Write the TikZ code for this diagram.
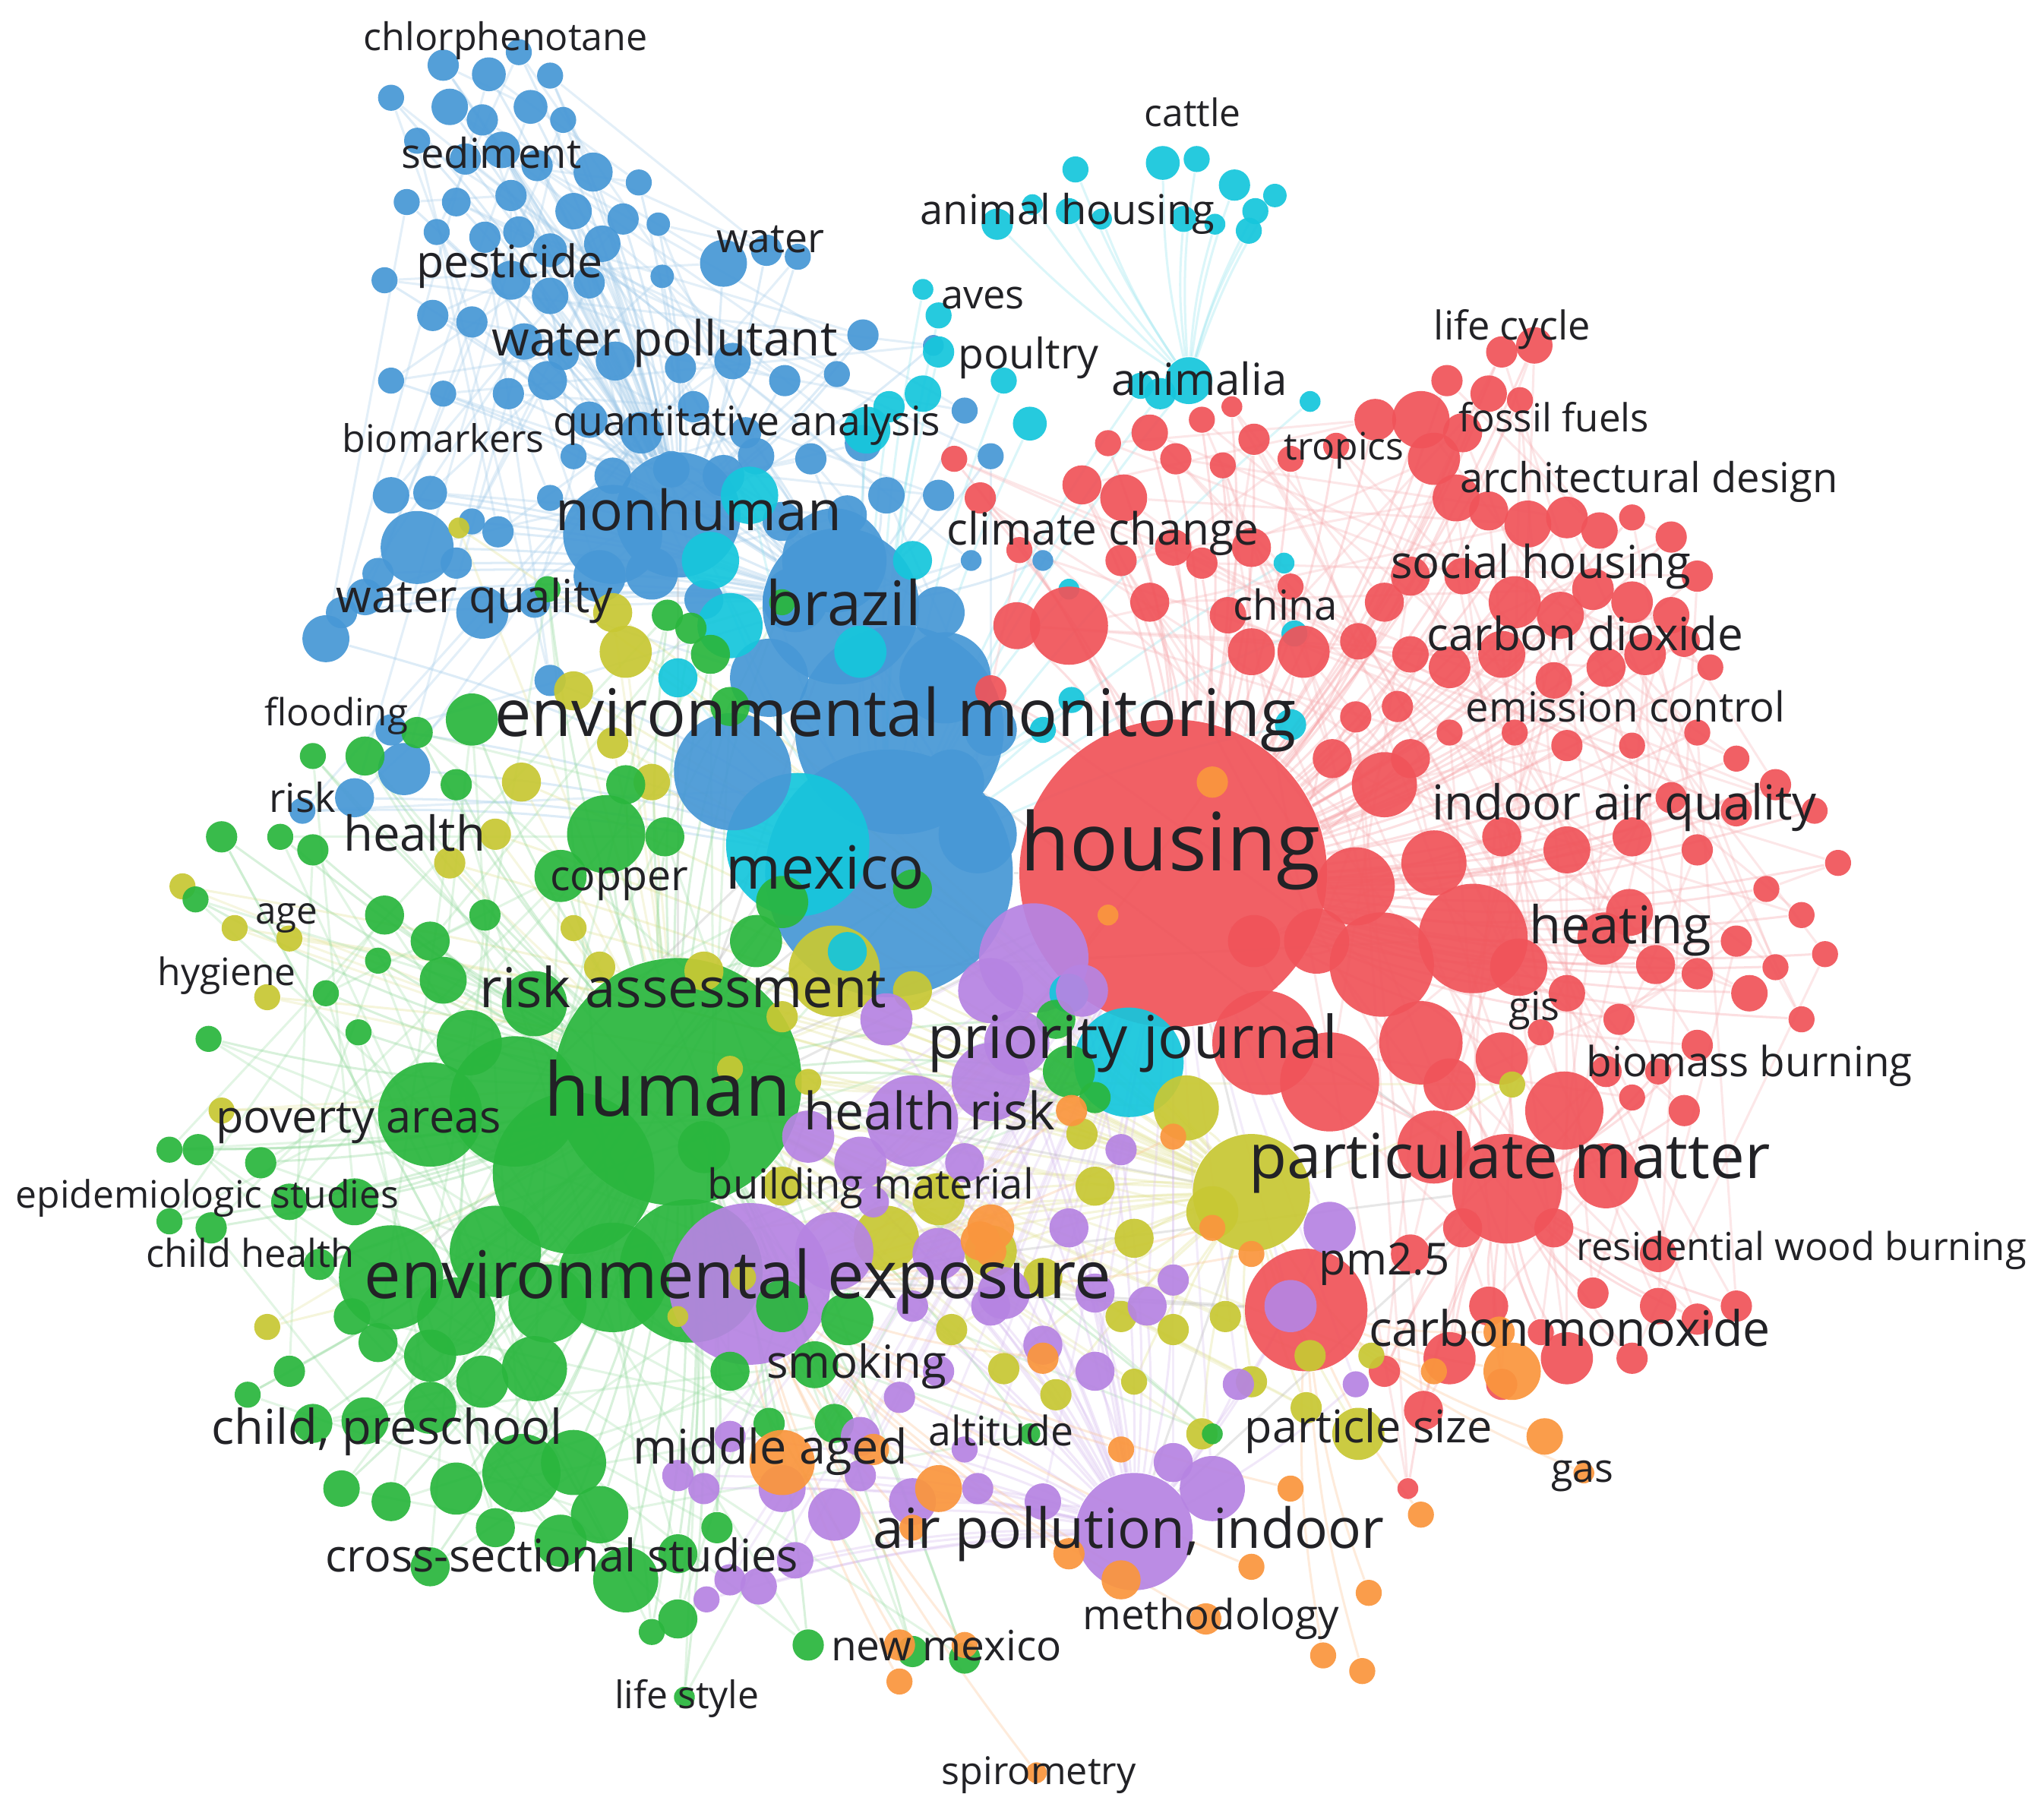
\documentclass[tikz,border=0pt]{standalone}
\usepackage{fontspec}
\usepackage{graphicx}
\setmainfont{Open Sans}
\usetikzlibrary{backgrounds}
\definecolor{cR}{RGB}{240,84,90}
\definecolor{cB}{RGB}{72,152,214}
\definecolor{cC}{RGB}{22,198,220}
\definecolor{cG}{RGB}{42,182,62}
\definecolor{cY}{RGB}{200,200,52}
\definecolor{cP}{RGB}{182,132,226}
\definecolor{cO}{RGB}{250,150,62}
\definecolor{txt}{RGB}{34,34,38}
\pgfdeclarelayer{bgzero}
\pgfsetlayers{bgzero,background,main}
\tikzset{
  bub/.style={circle, inner sep=0pt, draw=none, fill opacity=0.93},
  kw/.style={inner sep=0pt, anchor=base, text=txt},
  web/.style={line width=0.5pt, draw opacity=0.3},
}
\newcommand\kwlabel[5]{\node[kw] (#1) at (#2,#3) {\resizebox{#4mm}{!}{#5}};}
\def\blueS{340/50/12, 375/57/13, 398/40/10, 422/58/10, 300/75/10, 345/82/14, 370/92/12, 407/82/13, 432/92/10, 320/108/10, 357/122/12, 385/115/14, 412/127/12, 455/132/15, 490/140/10, 312/155/10, 350/155/11, 392/150/12, 440/162/14, 478/168/12, 505/172/9, 335/178/10, 372/182/12, 398/178/12, 422/192/13, 462/187/14, 508/212/9, 555/202/18, 588/192/12, 612/197/10, 295/215/10, 392/215/15, 422/227/14, 452/217/12, 332/242/12, 362/247/12, 402/262/14, 432/272/12, 472/277/15, 522/282/12, 562/277/14, 602/292/12, 642/287/10, 662/257/12, 716/265/8, 300/292/10, 340/302/10, 390/302/12, 420/292/15, 452/322/14, 492/332/16, 532/312/12, 572/332/12, 622/352/12, 662/340/14, 740/315/10, 300/380/14, 330/378/13, 362/400/10, 382/408/12, 422/382/10, 320/420/28, 290/440/12, 350/432/12, 370/470/20, 410/462/12, 460/442/20, 262/470/12, 280/458/14, 250/490/18, 422/522/12, 300/560/12, 310/590/20, 272/612/15, 232/622/10, 600/400/15, 580/350/14, 745/430/8, 800/430/8, 720/380/12, 760/350/10, 680/380/14, 590/520/30, 500/440/20, 540/460/15, 440/350/10, 470/365/14, 515/360/14, 555/365/16, 650/395/15, 610/460/25, 730/600/25, 760/560/20, 720/470/20, 750/640/30}
\def\cyanS{825/130/10, 892/125/13, 918/122/10, 947/142/12, 963/162/10, 978/150/9, 958/177/10, 765/172/12, 792/157/8, 820/162/10, 845/168/8, 908/168/10, 932/172/8, 708/222/8, 720/242/10, 720/270/12, 790/325/13, 770/292/10, 682/312/12, 708/302/14, 665/330/18, 912/292/18, 890/302/12, 875/296/10, 1005/308/8, 985/432/8, 993/486/10, 990/556/12, 520/520/15, 820/762/15, 800/560/10, 822/537/10, 650/730/15, 820/452/8, 700/430/15, 660/500/20, 560/480/25, 545/430/22, 575/380/22}
\def\redS{830/372/15, 862/382/18, 850/340/10, 882/332/14, 902/352/12, 922/322/10, 945/312/8, 938/357/10, 962/337/12, 990/352/10, 1025/342/10, 1055/322/16, 1090/322/22, 1110/292/12, 1122/332/15, 1142/302/14, 1166/307/10, 1152/270/12, 1177/265/14, 1100/352/20, 1117/382/18, 1142/392/15, 1172/402/18, 1202/397/16, 1227/407/14, 1252/397/10, 1282/412/12, 1302/442/12, 1282/472/14, 1252/462/16, 1222/452/16, 1197/472/18, 1162/462/20, 1122/442/14, 1082/442/15, 1062/462/15, 1042/492/14, 1082/502/14, 1112/512/16, 1152/502/18, 1192/522/14, 1232/512/15, 1262/502/16, 1292/492/12, 1312/512/10, 1000/500/20, 960/500/18, 942/472/14, 922/432/12, 882/462/15, 780/480/18, 760/530/12, 782/422/10, 752/382/12, 732/352/10, 1072/542/12, 1112/562/10, 1162/562/10, 1202/572/12, 1252/572/10, 1302/562/10, 1332/582/10, 1362/602/12, 1392/622/10, 1410/662/10, 1355/682/10, 1382/702/10, 1332/722/12, 1302/747/12, 1342/762/14, 1362/742/10, 1400/732/10, 1382/782/10, 1302/802/12, 1292/852/12, 1252/842/10, 1242/782/12, 1202/762/14, 1165/742/22, 1010/722/25, 1100/662/25, 1152/642/15, 1202/652/18, 1252/642/15, 1302/652/12, 1332/622/12, 1282/612/12, 1062/602/25, 1022/582/15, 1082/582/15, 1200/852/30, 1232/902/25, 1082/962/15, 1122/942/15, 1192/942/15, 1222/992/12, 1272/1002/14, 1302/1012/12, 1272/962/14, 1332/1002/12, 1252/1042/12, 1202/1042/20, 1142/1002/15, 1112/1042/20, 1092/1082/15, 1062/1052/12, 1080/1142/8, 1152/1062/12, 1182/1022/10, 1112/832/20, 1152/812/20, 962/722/20, 1182/792/10, 1232/822/12, 1272/822/10, 1040/550/12, 960/420/15, 990/450/10, 900/420/14, 860/430/12, 1230/720/20, 1270/740/15, 1250/700/18, 820/480/30, 970/800/40, 1020/830/38, 1090/800/32, 1040/680/30, 1060/740/40, 1100/880/28}
\def\yelS{930/930/20, 870/950/15, 840/910/15, 830/870/12, 720/920/20, 760/960/20, 800/980/15, 700/760/15, 600/780/12, 620/830/10, 560/820/10, 480/500/20, 440/530/15, 470/570/12, 500/600/14, 400/600/15, 380/640/12, 345/662/12, 180/712/10, 222/720/10, 205/765/10, 170/852/10, 205/1018/10, 140/680/10, 352/405/8, 470/470/15, 440/712/10, 460/742/12, 540/745/15, 730/1020/12, 770/1050/12, 810/1070/12, 870/1060/10, 900/1020/12, 940/1010/12, 960/1060/12, 1042/1100/20, 1002/1080/12, 1005/1040/12, 922/1100/12, 1052/1040/10, 1160/832/10, 570/980/10, 520/1010/8, 600/910/15, 860/1010/12, 910/850/25, 680/950/25}
\def\greenS{360/800/25, 410/770/25, 340/752/18, 330/722/15, 372/702/12, 295/702/15, 290/737/10, 240/652/12, 215/642/10, 170/642/12, 150/690/10, 240/580/10, 280/580/15, 320/562/12, 350/602/12, 362/552/20, 430/672/20, 510/642/15, 480/602/15, 545/502/15, 530/482/12, 512/472/12, 560/542/15, 600/462/10, 420/452/10, 250/762/10, 275/792/10, 160/797/10, 130/882/10, 152/882/12, 130/937/10, 162/942/12, 200/892/12, 222/922/14, 272/922/18, 410/1050/25, 370/1060/20, 330/1080/20, 280/1090/18, 240/1092/15, 222/1052/12, 190/1070/10, 262/1142/14, 300/1152/15, 350/1142/20, 440/1122/25, 460/1162/22, 430/1182/20, 380/1172/15, 330/1202/15, 480/1212/25, 520/1192/15, 550/1172/12, 500/1252/10, 520/1242/15, 590/1092/12, 625/1047/18, 640/1092/15, 560/1052/15, 600/1002/20, 650/1012/20, 820/822/20, 810/782/15, 840/842/12, 700/682/15, 540/880/20, 620/1262/12, 700/1267/12, 740/1272/12, 525/1302/8, 930/1100/8, 790/1100/8, 580/722/20, 600/692/20, 330/1040/20, 290/1030/15, 270/1010/14, 245/970/12, 465/640/30, 420/1000/30, 400/1130/30, 350/1010/30}
\def\purS{780/800/25, 620/872/20, 660/892/20, 720/962/20, 770/992/20, 840/992/15, 880/1002/15, 800/1032/15, 840/1052/15, 720/1052/12, 690/1072/12, 660/1102/15, 560/1102/12, 520/1132/12, 600/1142/18, 640/1162/20, 610/1197/14, 582/1217/14, 560/1212/12, 542/1227/10, 660/1132/12, 700/1152/18, 750/1142/12, 800/1152/14, 930/1142/25, 900/1122/15, 990/1002/20, 1020/942/20, 950/1062/12, 1040/1062/10, 700/1002/12, 740/1112/10, 540/1142/12, 760/1002/15, 740/892/15, 820/942/15, 860/882/12, 900/982/12, 680/782/20, 670/922/12, 830/760/20, 760/760/25, 700/860/35, 760/830/30, 640/960/30}
\def\orS{900/872/10, 822/852/12, 760/942/18, 752/952/15, 800/1042/12, 600/1122/25, 670/1112/12, 720/1142/18, 860/1212/15, 925/1242/12, 960/1202/10, 990/1142/10, 1015/1270/10, 1045/1282/10, 1050/1222/10, 1090/1162/10, 1160/1052/22, 1185/1102/14, 1215/1130/8, 1150/1022/12, 740/1262/10, 690/1262/12, 690/1290/10, 795/1360/8, 820/1192/12, 860/1112/10, 1100/1052/10, 930/942/10, 960/962/10, 850/702/8, 930/600/12, 700/1172/10, 760/960/12}
\begin{document}
\begin{tikzpicture}[x=0.1mm,y=-0.1mm]
\useasboundingbox (0,0) rectangle (1568,1393);
\begin{pgfonlayer}{bgzero}
\fill[white] (0,0) rectangle (1568,1393);
\end{pgfonlayer}
% ---- big hubs
\node[bub,fill=cR,minimum size=23.6mm] (R1) at (900,670) {};
\node[bub,fill=cB,minimum size=16mm] (B2) at (690,560) {};
\node[bub,fill=cB,minimum size=19mm] (B1) at (682,670) {};
\node[bub,fill=cC,minimum size=11mm] (C2) at (612,648) {};
\node[bub,fill=cB,minimum size=12mm] (B3) at (645,465) {};
\node[bub,fill=cB,minimum size=9mm] (B5) at (562,592) {};
\node[bub,fill=cB,minimum size=9.6mm] (B4) at (520,395) {};
\node[bub,fill=cB,minimum size=7.6mm] (B6) at (470,410) {};
\node[bub,fill=cB,minimum size=8mm] (B7) at (640,430) {};
\node[bub,fill=cB,minimum size=7mm] (B8) at (725,520) {};
\node[bub,fill=cG,minimum size=19mm] (G1) at (520,830) {};
\node[bub,fill=cG,minimum size=12.4mm] (G2) at (440,900) {};
\node[bub,fill=cG,minimum size=10mm] (G3) at (395,845) {};
\node[bub,fill=cG,minimum size=11mm] (G4) at (530,975) {};
\node[bub,fill=cG,minimum size=8.4mm] (G5) at (470,980) {};
\node[bub,fill=cG,minimum size=8mm] (G6) at (300,980) {};
\node[bub,fill=cG,minimum size=7mm] (G7) at (380,960) {};
\node[bub,fill=cG,minimum size=8mm] (G8) at (330,855) {};
\node[bub,fill=cP,minimum size=12.4mm] (P1) at (575,985) {};
\node[bub,fill=cP,minimum size=8.4mm] (P2) at (793,735) {};
\node[bub,fill=cP,minimum size=9mm] (P3) at (870,1175) {};
\node[bub,fill=cR,minimum size=8.4mm] (R2) at (1156,912) {};
\node[bub,fill=cY,minimum size=9mm] (Y1) at (960,915) {};
\node[bub,fill=cY,minimum size=7mm] (Y2) at (640,745) {};
\node[bub,fill=cR,minimum size=9.4mm] (R3) at (1002,1005) {};
\node[bub,fill=cR,minimum size=8.4mm] (R4) at (1130,720) {};
\node[bub,fill=cC,minimum size=8.4mm] (C1) at (866,815) {};
% ---- small bubbles
\foreach \x/\y/\r [count=\i] in \blueS {\node[bub,fill=cB,minimum size=\r*0.2mm] (bs\i) at (\x,\y) {}; \xdef\nB{\i}}
\foreach \x/\y/\r [count=\i] in \cyanS {\node[bub,fill=cC,minimum size=\r*0.2mm] (cs\i) at (\x,\y) {}; \xdef\nC{\i}}
\foreach \x/\y/\r [count=\i] in \redS {\node[bub,fill=cR,minimum size=\r*0.2mm] (rs\i) at (\x,\y) {}; \xdef\nR{\i}}
\foreach \x/\y/\r [count=\i] in \yelS {\node[bub,fill=cY,minimum size=\r*0.2mm] (ys\i) at (\x,\y) {}; \xdef\nY{\i}}
\foreach \x/\y/\r [count=\i] in \greenS {\node[bub,fill=cG,minimum size=\r*0.2mm] (gs\i) at (\x,\y) {}; \xdef\nG{\i}}
\foreach \x/\y/\r [count=\i] in \purS {\node[bub,fill=cP,minimum size=\r*0.2mm] (ps\i) at (\x,\y) {}; \xdef\nP{\i}}
\foreach \x/\y/\r [count=\i] in \orS {\node[bub,fill=cO,minimum size=\r*0.2mm] (os\i) at (\x,\y) {}; \xdef\nO{\i}}
% ---- connectors
\begin{pgfonlayer}{background}
\foreach \x/\y/\r [count=\i] in \blueS {
  \pgfmathtruncatemacro\j{mod(\i*7,\nB)+1}
  \pgfmathtruncatemacro\h{\y<300?4:(\y<480?3:1)}
  \draw[web,draw=cB!60] (bs\i) to[bend left=6] (B\h);
  \draw[web,draw=cB!50] (bs\i) -- (bs\j);}
\foreach \x/\y/\r [count=\i] in \cyanS {
  \pgfmathtruncatemacro\t{\y<200?1:0}
  \ifnum\t=1 \draw[web,draw=cC!50] (cs\i) to[bend right=6] (cs22);
  \else \draw[web,draw=cC!50] (cs\i) to[bend right=6] (B1); \fi}
\foreach \x/\y/\r [count=\i] in \redS {
  \pgfmathtruncatemacro\j{mod(\i*11,\nR)+1}
  \pgfmathtruncatemacro\h{\y<800?1:2}
  \draw[web,draw=cR!60] (rs\i) to[bend left=8] (R\h);
  \draw[web,draw=cR!45] (rs\i) -- (rs\j);}
\foreach \x/\y/\r [count=\i] in \yelS {
  \draw[web,draw=cY!60] (ys\i) to[bend left=6] (Y1);
  \draw[web,draw=cY!50] (ys\i) -- (G1);}
\foreach \x/\y/\r [count=\i] in \greenS {
  \pgfmathtruncatemacro\j{mod(\i*5,\nG)+1}
  \draw[web,draw=cG!60] (gs\i) to[bend right=6] (G1);
  \draw[web,draw=cG!45] (gs\i) -- (gs\j);}
\foreach \x/\y/\r [count=\i] in \purS {
  \draw[web,draw=cP!60] (ps\i) to[bend left=6] (P3);
  \draw[web,draw=cP!50] (ps\i) -- (R1);}
\foreach \x/\y/\r [count=\i] in \orS {
  \pgfmathtruncatemacro\t{\x>1000?1:0}
  \ifnum\t=1 \draw[web,draw=cO!60] (os\i) to[bend left=6] (R3);
  \else \draw[web,draw=cO!60] (os\i) to[bend left=6] (P1); \fi}
\foreach \a/\b in {R1/B1,R1/G1,R1/P1,R1/Y1,R1/C1,B1/G1,B2/G1,B3/G1,B4/G1,G1/P1,G1/Y1,P1/R2,P1/R3,Y1/P3,B1/P1,B2/R2,C2/G2,G2/R1,G3/B2,R2/P3,R3/G4,C1/G5,Y2/R4,B5/P2,G6/B1}
  \draw[web,draw=gray!60] (\a) -- (\b);
\end{pgfonlayer}
% ---- labels
\kwlabel{l1}{388}{39}{21.8}{chlorphenotane}
\kwlabel{l2}{377}{129}{13.8}{sediment}
\kwlabel{l3}{915}{97}{7.4}{cattle}
\kwlabel{l4}{819}{172}{22.6}{animal housing}
\kwlabel{l5}{391}{213}{14.3}{pesticide}
\kwlabel{l6}{591}{194}{8.3}{water}
\kwlabel{l7}{754}{237}{6.4}{aves}
\kwlabel{l8}{510}{273}{26.5}{water pollutant}
\kwlabel{l9}{789}{283}{10.8}{poultry}
\kwlabel{l10}{1160}{261}{12}{life cycle}
\kwlabel{l11}{920}{303}{13.5}{animalia}
\kwlabel{l12}{1192}{331}{14.6}{fossil fuels}
\kwlabel{l13}{340}{347}{15.5}{biomarkers}
\kwlabel{l14}{573}{334}{29.7}{quantitative analysis}
\kwlabel{l15}{1031}{353}{9.2}{tropics}
\kwlabel{l16}{1265}{378}{29}{architectural design}
\kwlabel{l17}{536}{407}{21.9}{nonhuman}
\kwlabel{l18}{846}{418}{23.9}{climate change}
\kwlabel{l19}{1182}{444}{23}{social housing}
\kwlabel{l20}{364}{470}{21.2}{water quality}
\kwlabel{l21}{647}{480}{11.9}{brazil}
\kwlabel{l22}{986}{476}{8}{china}
\kwlabel{l23}{1216}{499}{24.3}{carbon dioxide}
\kwlabel{l24}{258}{557}{11}{flooding}
\kwlabel{l25}{687}{565}{61.5}{environmental monitoring}
\kwlabel{l26}{1247}{554}{24.5}{emission control}
\kwlabel{l27}{232}{623}{5.1}{risk}
\kwlabel{l28}{1246}{629}{29.5}{indoor air quality}
\kwlabel{l29}{318}{653}{10.9}{health}
\kwlabel{l30}{898}{668}{23}{housing}
\kwlabel{l31}{475}{683}{10.6}{copper}
\kwlabel{l32}{633}{682}{15.2}{mexico}
\kwlabel{l33}{220}{709}{4.8}{age}
\kwlabel{l34}{1243}{724}{14}{heating}
\kwlabel{l35}{174}{756}{10.6}{hygiene}
\kwlabel{l36}{524}{773}{31.2}{risk assessment}
\kwlabel{l37}{869}{812}{31.5}{priority journal}
\kwlabel{l38}{1177}{783}{3.9}{gis}
\kwlabel{l39}{1342}{826}{25}{biomass burning}
\kwlabel{l40}{512}{856}{18.9}{human}
\kwlabel{l41}{713}{867}{19.3}{health risk}
\kwlabel{l42}{275}{869}{21.9}{poverty areas}
\kwlabel{l43}{1158}{904}{40}{particulate matter}
\kwlabel{l44}{159}{927}{29.4}{epidemiologic studies}
\kwlabel{l45}{668}{920}{25}{building material}
\kwlabel{l46}{192}{972}{16}{child health}
\kwlabel{l47}{566}{996}{57.3}{environmental exposure}
\kwlabel{l48}{1062}{978}{10}{pm2.5}
\kwlabel{l49}{1382}{967}{34.5}{residential wood burning}
\kwlabel{l50}{1204}{1033}{30.8}{carbon monoxide}
\kwlabel{l51}{657}{1057}{13.8}{smoking}
\kwlabel{l52}{297}{1108}{26.9}{child, preschool}
\kwlabel{l53}{591}{1123}{21.1}{middle aged}
\kwlabel{l54}{768}{1109}{11.1}{altitude}
\kwlabel{l55}{1050}{1107}{19}{particle size}
\kwlabel{l56}{1214}{1137}{4.8}{gas}
\kwlabel{l57}{866}{1188}{39.2}{air pollution, indoor}
\kwlabel{l58}{431}{1206}{36.3}{cross-sectional studies}
\kwlabel{l59}{929}{1250}{19.7}{methodology}
\kwlabel{l60}{726}{1274}{17.7}{new mexico}
\kwlabel{l61}{527}{1311}{11.1}{life style}
\kwlabel{l62}{797}{1369}{14.9}{spirometry}
\end{tikzpicture}
\end{document}
